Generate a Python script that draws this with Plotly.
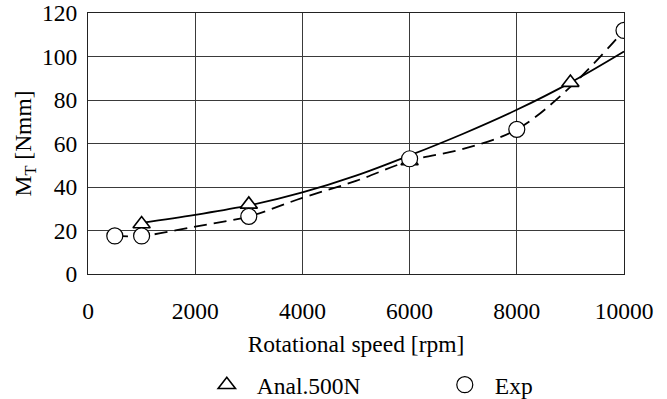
import plotly.graph_objects as go

# Analytical curve (solid line)
anal_curve_x = [1000, 2000, 3000, 4000, 5000, 6000, 7000, 8000, 9000, 10000]
anal_curve_y = [23.5, 27.2, 31.5, 37.5, 45.2, 54.5, 64.5, 75.5, 88.0, 102.3]
# Analytical markers (triangles)
anal_x = [1000, 3000, 6000, 9000]
anal_y = [23, 32, 52, 88]

exp_curve_x = [500, 1000, 2000, 3000, 4000, 5000, 6000, 7000, 8000, 9000, 10000]
exp_curve_y = [17.5, 17.5, 21.8, 26.5, 35.0, 42.8, 52.0, 57.5, 66.5, 86.0, 112.0]
# Experimental markers (circles)
exp_x = [500, 1000, 3000, 6000, 8000, 10000]
exp_y = [17.5, 17.5, 26.5, 53, 66.5, 112]

x_ticks = [0, 2000, 4000, 6000, 8000, 10000]
y_ticks = [0, 20, 40, 60, 80, 100, 120]

FONT = "Liberation Serif"
FS = 23.5

fig = go.Figure()
fig.add_trace(go.Scatter(x=anal_curve_x, y=anal_curve_y, mode="lines",
                         line=dict(color="black", width=1.8, shape="spline"),
                         showlegend=False, hoverinfo="skip"))
fig.add_trace(go.Scatter(x=exp_curve_x, y=exp_curve_y, mode="lines",
                         line=dict(color="black", width=1.8, dash="13px,7px", shape="spline"),
                         showlegend=False, hoverinfo="skip"))
fig.add_trace(go.Scatter(x=anal_x, y=anal_y, mode="markers", name="Anal.500N",
                         marker=dict(symbol="triangle-up", size=15, color="white",
                                     line=dict(color="black", width=1.6))))
fig.add_trace(go.Scatter(x=exp_x, y=exp_y, mode="markers", name="Exp",
                         marker=dict(symbol="circle", size=16, color="white",
                                     line=dict(color="black", width=1.2))))

axis_common = dict(showgrid=True, gridcolor="#3a3a3a", gridwidth=1,
                   showline=True, linecolor="#222", linewidth=1.2, mirror=True,
                   zeroline=False, ticks="",
                   tickfont=dict(family=FONT, size=FS, color="black"))

fig.update_xaxes(range=[0, 10000], tickvals=x_ticks, ticktext=[str(v) for v in x_ticks],
                 ticklabelstandoff=16,
                 title=dict(text="Rotational speed [rpm]", standoff=12,
                            font=dict(family=FONT, size=FS, color="black")),
                 **axis_common)
fig.update_yaxes(range=[0, 120], tickvals=y_ticks, ticktext=[str(v) for v in y_ticks],
                 ticklabelstandoff=5,
                 title=dict(text="M<sub>T</sub> [Nmm]", standoff=3,
                            font=dict(family=FONT, size=FS, color="black")),
                 **axis_common)

fig.update_layout(
    width=667, height=399,
    margin=dict(l=88, r=43, t=13, b=125, autoexpand=False),
    paper_bgcolor="white", plot_bgcolor="white",
    font=dict(family=FONT, size=FS, color="black"),
    showlegend=True,
    legend=dict(orientation="h", x=0.647, xanchor="center", y=-0.425, yanchor="middle",
                xref="paper", yref="paper", entrywidth=173, entrywidthmode="pixels",
                itemwidth=50, font=dict(family=FONT, size=FS, color="black"),
                bgcolor="rgba(0,0,0,0)"),
)

fig.write_html("out.html")
